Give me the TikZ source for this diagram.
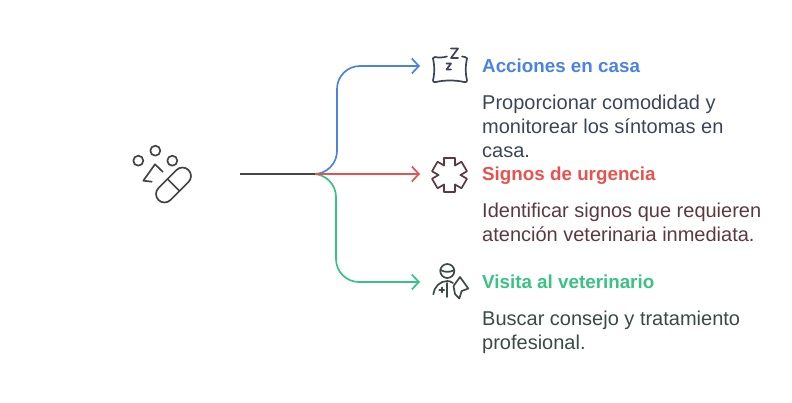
\documentclass[tikz,border=0pt]{standalone}
\usepackage{fontspec}
\setmainfont{Liberation Sans}
\usetikzlibrary{arrows.meta}
\definecolor{blueline}{HTML}{4A83E0}
\definecolor{redline}{HTML}{E5534F}
\definecolor{greenline}{HTML}{38C283}
\definecolor{darkline}{HTML}{444444}
\definecolor{pillowink}{HTML}{3C4558}
\definecolor{starink}{HTML}{5A3A40}
\definecolor{vetink}{HTML}{3A4A44}
\tikzset{
    link/.style={line width=1.7pt, rounded corners=23pt, -{Straight Barb[length=7pt,width=15pt,line width=1.7pt]}},
    icon/.style={line width=1.7pt, line join=round, line cap=round},
    heading/.style={anchor=base west, inner sep=0pt, font=\fontsize{18.8}{22}\selectfont\bfseries},
    body/.style={anchor=north west, inner sep=0pt, align=left, font=\fontsize{20}{24}\selectfont},
}
\begin{document}
\begin{tikzpicture}[x=1pt,y=-1pt]
    \useasboundingbox (0,0) rectangle (792,402);

    \coordinate (start) at (240,174);
    \coordinate (hub) at (315,174);
    \coordinate (bendblue) at (337,66);
    \coordinate (bendgreen) at (336,282);
    \coordinate (tipblue) at (420,66);
    \coordinate (tipred) at (420,174);
    \coordinate (tipgreen) at (420,282);

    % Connectors
    \draw[link, greenline] (hub) -| (bendgreen) -- (tipgreen);
    \draw[link, blueline] (hub) -| (bendblue) -- (tipblue);
    \draw[link, redline] (hub) -- (tipred);
    \draw[line width=1.7pt, darkline] (start) -- (hub);

    % Pill icon
    \begin{scope}[icon, darkline]
        \draw (138.3,160.7) circle (5pt);
        \draw (155.3,150.7) circle (5pt);
        \draw (172.3,160.7) circle (5pt);
        \draw (151.7,181.7) -- (143.3,180.7) -- (155,164.3) -- (162.7,171.7);
        \begin{scope}[shift={(173.5,185)}, rotate=45]
            \draw[rounded corners=8.5pt] (-21.2,-8.5) rectangle (21.2,8.5);
            \draw (0,-8.5) -- (0,8.5);
        \end{scope}
    \end{scope}

    % Pillow icon
    \begin{scope}[icon, pillowink]
        \draw (447,56.5) .. controls (443,57.5) and (439,58) .. (435,57) .. controls (432.5,57) and (432.5,59) .. (433.5,61)
            .. controls (434.5,66) and (434.5,73) .. (433.5,78) .. controls (432.5,81) and (433,82.5) .. (436,82)
            .. controls (444,80) and (456,80) .. (464,82) .. controls (467,82.5) and (467.5,81) .. (466.5,78)
            .. controls (465.5,73) and (465.5,66) .. (466.5,61) .. controls (467.5,59) and (467.5,57) .. (465,57)
            .. controls (464,57) and (463,57) .. (462,56.5);
        \draw (451,48.5) -- (458,48.5) -- (451,58) -- (458,58);
        \draw (446.5,63.5) -- (451,63.5) -- (446.5,69.5) -- (451,69.5);
    \end{scope}

    % Star icon
    \begin{scope}[icon, starink, shift={(449.5,175)}]
        \foreach \ang in {0,60,...,300}
            \draw[rotate=\ang] (-5.5,-9.5) -- (-5.5,-17) -- (5.5,-17) -- (5.5,-9.5);
    \end{scope}

    % Vet icon
    \begin{scope}[icon, vetink]
        \draw (447.3,271) circle (7pt);
        \draw (440.5,270) .. controls (445,272.5) and (450,272.5) .. (454.2,270);
        \draw (433.3,294.3) .. controls (434,287) and (440,281) .. (447.3,281) .. controls (449,281) and (451,281.5) .. (453,283);
        \draw (447.3,283) -- (447.3,297);
        \draw (439.2,290) -- (444.2,290);
        \draw (441.7,287.5) -- (441.7,292.5);
        \draw (453.5,286) -- (460,277) -- (468.3,288.5) -- (461.7,291) -- (459.3,298.5) -- (455,294) -- cycle;
    \end{scope}

    % Texts
    \node[heading, text=blueline] (accionestitle) at (482,72.5) {Acciones en casa};
    \node[body, text=pillowink] (accionestext) at (482,95) {Proporcionar comodidad y\\monitorear los síntomas en\\casa.};
    \node[heading, text=redline] (signostitle) at (482,180.5) {Signos de urgencia};
    \node[body, text=starink] (signostext) at (482,203) {Identificar signos que requieren\\atención veterinaria inmediata.};
    \node[heading, text=greenline] (visitatitle) at (482,288.5) {Visita al veterinario};
    \node[body, text=vetink] (visitatext) at (482,311) {Buscar consejo y tratamiento\\profesional.};
\end{tikzpicture}
\end{document}
